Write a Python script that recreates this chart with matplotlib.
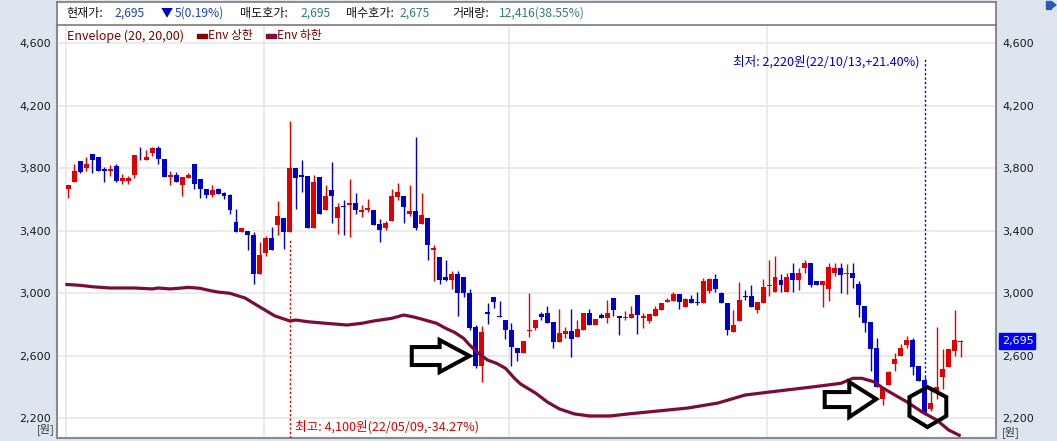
import matplotlib.pyplot as plt
import numpy as np
from matplotlib.patches import Polygon, Rectangle
from matplotlib.ticker import FuncFormatter

W, H = 1057, 441

# daily candles (won)
opens = [
    3665, 3710, 3845, 3800, 3890, 3870, 3795, 3785, 3815, 3720,
    3720, 3755, 3855, 3855, 3895, 3930, 3860, 3745, 3755, 3695,
    3740, 3825, 3730, 3665, 3630, 3665, 3645, 3630, 3455, 3395,
    3400, 3375, 3125, 3255, 3355, 3435, 3485, 3395, 3800, 3755,
    3750, 3415, 3745, 3535, 3660, 3485, 3560, 3565, 3580, 3520,
    3530, 3535, 3445, 3415, 3460, 3615, 3625, 3510, 3525, 3445,
    3485, 3280, 3230, 3105, 3085, 3125, 3105, 3000, 2785, 2535,
    2880, 2975, 2855, 2830, 2765, 2650, 2620, 2760, 2775, 2865,
    2875, 2815, 2690, 2740, 2760, 2720, 2765, 2875, 2800, 2860,
    2840, 2970, 2855, 2840, 2840, 2990, 2840, 2825, 2855, 2895,
    2945, 2950, 2995, 2910, 2965, 2945, 2940, 3015, 3090, 3000,
    2940, 2750, 2820, 2985, 2985, 2895, 2940, 3045, 3010, 3085,
    3010, 3130, 3085, 3165, 3195, 3080, 3055, 3025, 3130, 3160,
    3125, 3130, 3060, 2920, 2815, 2650, 2325, 2415, 2550, 2600,
    2670, 2700, 2535, 2445, 2260, 2375, 2465, 2530, 2630, 2690,
]
highs = [
    3695, 3830, 3845, 3870, 3890, 3870, 3810, 3820, 3825, 3765,
    3750, 3885, 3935, 3915, 3935, 3945, 3860, 3785, 3775, 3745,
    3770, 3825, 3730, 3665, 3695, 3675, 3650, 3635, 3540, 3420,
    3400, 3390, 3330, 3365, 3425, 3590, 3485, 4100, 3800, 3855,
    3750, 3755, 3745, 3695, 3840, 3580, 3600, 3730, 3640, 3565,
    3605, 3535, 3475, 3465, 3670, 3705, 3625, 3695, 4000, 3645,
    3485, 3310, 3230, 3215, 3145, 3145, 3105, 3030, 2800, 2790,
    2940, 2975, 2950, 2830, 2810, 2650, 2695, 3000, 2830, 2880,
    2920, 2815, 2900, 2785, 2900, 2830, 2875, 2900, 2835, 2875,
    2955, 2970, 2855, 2885, 2920, 2990, 2875, 2865, 2920, 2940,
    2970, 3010, 2995, 2970, 2990, 3010, 3100, 3095, 3125, 3010,
    2940, 2895, 3070, 3020, 3055, 2945, 3090, 3215, 3240, 3125,
    3130, 3195, 3160, 3215, 3195, 3080, 3080, 3195, 3195, 3195,
    3185, 3195, 3080, 2920, 2815, 2715, 2395, 2505, 2620, 2675,
    2725, 2715, 2535, 2465, 2380, 2785, 2645, 2645, 2895, 2700,
]
lows = [
    3610, 3710, 3770, 3785, 3770, 3785, 3715, 3750, 3715, 3700,
    3700, 3740, 3850, 3855, 3880, 3830, 3745, 3695, 3710, 3625,
    3735, 3670, 3610, 3610, 3615, 3635, 3605, 3510, 3395, 3395,
    3275, 3060, 3125, 3240, 3275, 3375, 3285, 3395, 3540, 3650,
    3415, 3415, 3505, 3535, 3450, 3380, 3375, 3360, 3510, 3490,
    3520, 3440, 3330, 3405, 3460, 3600, 3450, 3495, 3405, 3445,
    3215, 3080, 3060, 3080, 3030, 2855, 2975, 2765, 2520, 2430,
    2805, 2905, 2850, 2710, 2535, 2565, 2620, 2720, 2765, 2830,
    2810, 2650, 2690, 2715, 2595, 2720, 2765, 2800, 2800, 2840,
    2810, 2855, 2735, 2830, 2840, 2740, 2775, 2810, 2855, 2895,
    2945, 2950, 2900, 2910, 2940, 2925, 2940, 3005, 3010, 2940,
    2735, 2750, 2820, 2960, 2910, 2875, 2940, 2985, 3010, 3010,
    3010, 3010, 3020, 3130, 3040, 3055, 2915, 2950, 3110, 3000,
    2995, 3035, 2850, 2755, 2505, 2400, 2285, 2415, 2505, 2600,
    2650, 2475, 2440, 2220, 2245, 2325, 2390, 2530, 2600, 2590,
]
closes = [
    3695, 3785, 3775, 3825, 3850, 3785, 3780, 3795, 3720, 3740,
    3740, 3885, 3850, 3870, 3930, 3860, 3745, 3755, 3710, 3745,
    3755, 3700, 3665, 3630, 3660, 3635, 3625, 3535, 3395, 3420,
    3370, 3125, 3245, 3355, 3275, 3495, 3395, 3800, 3740, 3745,
    3415, 3710, 3505, 3625, 3620, 3550, 3550, 3580, 3530, 3535,
    3545, 3440, 3405, 3450, 3625, 3650, 3550, 3525, 3415, 3500,
    3310, 3290, 3085, 3085, 3125, 3000, 3000, 2780, 2535, 2750,
    2870, 2945, 2850, 2765, 2655, 2620, 2695, 2765, 2830, 2850,
    2810, 2690, 2745, 2760, 2710, 2770, 2875, 2800, 2835, 2840,
    2875, 2895, 2840, 2850, 2865, 2860, 2855, 2865, 2900, 2940,
    2955, 2995, 2945, 2965, 2940, 2940, 3080, 3090, 3030, 2940,
    2765, 2795, 2955, 2975, 2910, 2945, 3040, 3050, 3105, 3050,
    3105, 3085, 3130, 3195, 3055, 3055, 3080, 3170, 3160, 3115,
    3130, 3100, 2925, 2810, 2645, 2400, 2395, 2495, 2580, 2650,
    2700, 2530, 2440, 2230, 2300, 2400, 2515, 2645, 2700, 2695,
]

# Envelope lower band (Env 하한), sampled along the curve
env_idx = [-0.5, 2, 4, 7, 11, 14, 15, 17, 19, 20, 22, 23, 24, 25, 27, 29.5,
           32, 34.5, 37, 38, 40, 43, 46.5, 49, 51, 54, 56, 57.5, 59, 61.5,
           63, 64.5, 66, 67, 68.5, 70, 71.5, 73, 74.5, 75.5, 78, 80, 82,
           84.5, 87, 90.5, 93.5, 98.5, 103.5, 108.5, 113, 117.5, 121, 124.5,
           129, 131, 132.5, 134.5, 136, 138.5, 140, 142.5, 145, 147, 149]
env_low = [3057, 3051, 3042, 3034, 3034, 3028, 3034, 3028, 3034, 3038, 3032,
           3023, 3015, 3008, 3000, 2970, 2912, 2855, 2823, 2829, 2818, 2808,
           2797, 2808, 2823, 2840, 2861, 2850, 2835, 2808, 2776, 2750, 2712,
           2669, 2616, 2573, 2552, 2520, 2456, 2420, 2362, 2304, 2260, 2228,
           2215, 2215, 2228, 2247, 2266, 2298, 2349, 2370, 2386, 2402, 2424,
           2456, 2456, 2434, 2394, 2338, 2306, 2242, 2189, 2125, 2087]

month_starts = [0, 33, 74, 117]
price_ticks = [2200, 2600, 3000, 3400, 3800, 4200, 4600]
high_idx, low_idx = 37, 143

UP, DOWN = '#e00000', '#0000cc'
ENV = '#7b0b3b'
SIDE = '#dde5ef'
KR = ['Noto Sans CJK KR', 'DejaVu Sans']


def fx(px):
    return px / W


def fy(py):
    return 1 - py / H


def main() -> None:
    o = np.array(opens)
    c = np.array(closes)
    hi = np.array(highs)
    lo = np.array(lows)
    idx = np.arange(len(o))
    colors = np.where(c >= o, UP, DOWN)

    fig = plt.figure(figsize=(W / 100, H / 100), dpi=100, facecolor=SIDE)
    ax = fig.add_axes([fx(57), fy(438), fx(939), (438 - 25) / H])
    ax.set_facecolor('white')
    ax.set_xlim(-1.886, 154.9)
    ax.set_ylim(2074, 4717)

    for t in price_ticks:
        ax.axhline(t, color='#e8e8e8', lw=1.2, zorder=0)
    for m in month_starts:
        ax.axvline(m - 0.35, color='#e8e8e8', lw=1.2, zorder=0)

    ax.vlines(idx, lo, hi, colors=colors, lw=1.0, zorder=2)
    body = np.maximum(np.abs(c - o), 6)
    ax.bar(idx, body, bottom=np.minimum(o, c), width=0.83, color=colors,
           linewidth=0, zorder=3)

    ax.plot(env_idx, env_low, color=ENV, lw=2.3, zorder=4,
            solid_capstyle='butt')

    # high / low markers
    ax.vlines(high_idx, 2074, lows[high_idx] - 40, colors=UP, lw=1.0,
              linestyles=(0, (1.6, 1.6)), zorder=4)
    ax.text(high_idx + 0.9, 2146, '최고: 4,100원(22/05/09,-34.27%)',
            color=UP, fontsize=9.1, family=KR, va='center', ha='left')
    ax.vlines(low_idx, highs[low_idx], 4500, colors=DOWN, lw=1.0,
              linestyles=(0, (1.6, 1.6)), zorder=4)
    ax.text(low_idx - 0.85, 4482, '최저: 2,220원(22/10/13,+21.40%)',
            color=DOWN, fontsize=9.1, family=KR, va='center', ha='right')

    # hand-drawn marks
    arrow_1 = [(57.35, 2656), (62.0, 2656), (62.0, 2701), (67.0, 2599),
               (62.0, 2496), (62.0, 2541), (57.35, 2541)]
    arrow_2 = [(126.3, 2368), (130.4, 2368), (130.4, 2432), (134.9, 2323),
               (130.4, 2208), (130.4, 2272), (126.3, 2272)]
    hexagon = [(143.45, 2400), (146.6, 2336), (146.6, 2215), (143.45, 2144),
               (140.45, 2215), (140.45, 2336)]
    for pts in (arrow_1, arrow_2, hexagon):
        ax.add_patch(Polygon(pts, closed=True, fill=False, edgecolor='black',
                             lw=2.9, joinstyle='miter', zorder=6))

    ax.set_xticks([])
    ax.set_yticks(price_ticks)
    ax.yaxis.set_major_formatter(FuncFormatter(lambda v, _: f'{int(v):,}'))
    ax.tick_params(axis='y', length=0, labelsize=8, labelcolor='#1a1a1a',
                   labelleft=True, labelright=True, pad=4.5)
    for lab in ax.get_yticklabels(which='both'):
        lab.set_family('DejaVu Sans')
    for side in ('left', 'right', 'bottom'):
        ax.spines[side].set_color('#8a8a8a')
        ax.spines[side].set_linewidth(1.5)
    ax.spines['top'].set_visible(False)

    # header box
    hax = fig.add_axes([fx(57), fy(25), fx(939), 23.5 / H])
    hax.set_facecolor('white')
    hax.set_xticks([])
    hax.set_yticks([])
    for s in hax.spines.values():
        s.set_color('#7a7a7a')
        s.set_linewidth(1.2)

    header = [
        (66, '현재가:', '#111111'),
        (114, '2,695', '#1f3fc4'),
        (161, '▼', '#0000cc'),
        (175, '5(0.19%)', '#1f3fc4'),
        (240, '매도호가:', '#111111'),
        (300, '2,695', '#2f7a80'),
        (346, '매수호가:', '#111111'),
        (399, '2,675', '#2f7a80'),
        (452, '거래량:', '#111111'),
        (499, '12,416(38.55%)', '#2f7a80'),
    ]
    for x, s, col in header:
        fig.text(fx(x), fy(13), s, color=col, fontsize=8.7, family=KR,
                 va='center', ha='left')

    # legend row
    fig.text(fx(67), fy(36), 'Envelope (20, 20,00)', color='#800000',
             fontsize=9, family=KR, va='center')
    fig.add_artist(Rectangle((fx(197), fy(38)), 10 / W, 4 / H,
                             transform=fig.transFigure, color='#8b0000'))
    fig.text(fx(208), fy(36), 'Env 상한', color='#800000', fontsize=8.5,
             family=KR, va='center')
    fig.add_artist(Rectangle((fx(266), fy(38)), 10 / W, 4 / H,
                             transform=fig.transFigure, color=ENV))
    fig.text(fx(277), fy(36), 'Env 하한', color='#800000', fontsize=8.5,
             family=KR, va='center')

    # unit labels and current price tag
    fig.text(fx(55), fy(429), '[원]', color='#333333', fontsize=8,
             family=KR, va='center', ha='right')
    fig.text(fx(1002), fy(432), '[원]', color='#333333', fontsize=8,
             family=KR, va='center', ha='left')
    price_y = 168.3 + (3800 - closes[-1]) / 6.4
    fig.add_artist(Rectangle((fx(999), fy(price_y + 8)), 36 / W, 16 / H,
                             transform=fig.transFigure, color='#0000ff'))
    fig.text(fx(1002), fy(price_y), f'{closes[-1]:,}', color='white',
             fontsize=8, va='center', ha='left')

    # small toolbar icon, top right
    for dx in (0, 3):
        for dy in (1, 4, 7):
            fig.add_artist(Rectangle((fx(1046 + dx), fy(dy + 2)), 2 / W, 2 / H,
                                     transform=fig.transFigure,
                                     color='#2a5ab0'))
    fig.add_artist(Polygon([(fx(1052), fy(2)), (fx(1056), fy(5)),
                            (fx(1052), fy(8))], closed=True,
                           transform=fig.transFigure, color='#2a5ab0'))

    fig.savefig('out.png', dpi=100, facecolor=SIDE)
    plt.close(fig)


if __name__ == '__main__':
    main()
